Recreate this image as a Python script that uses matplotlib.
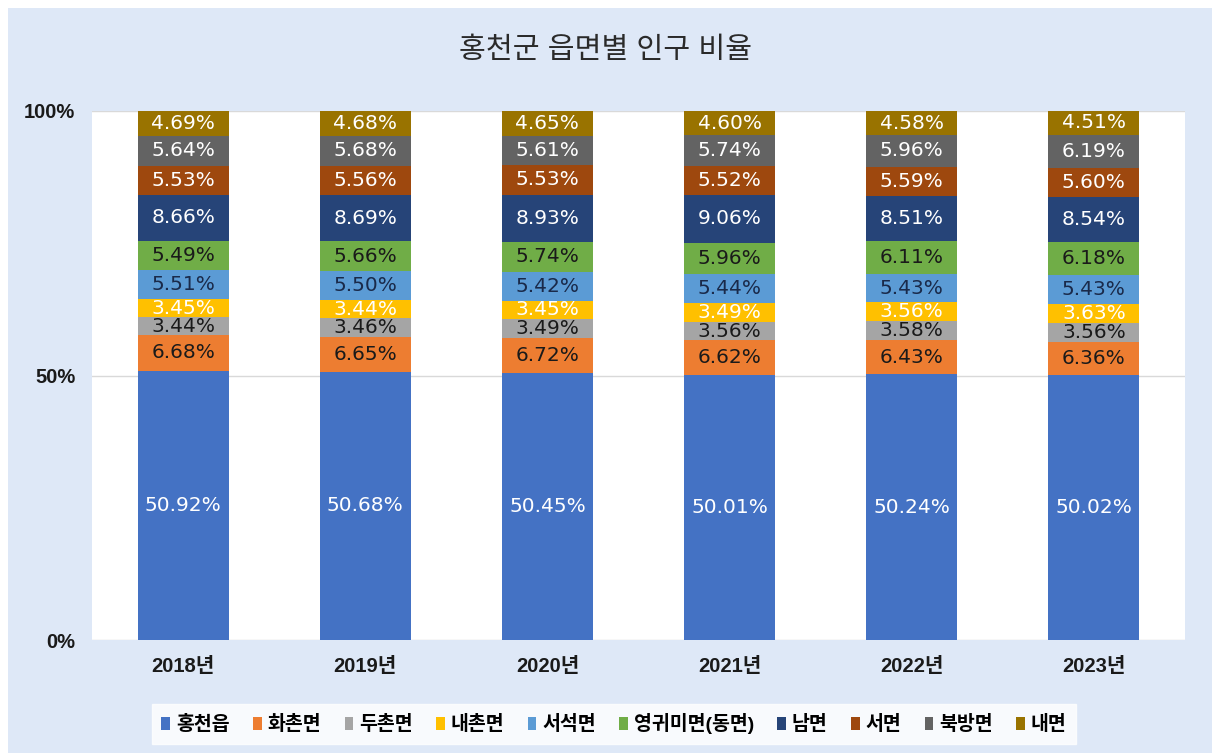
import matplotlib.pyplot as plt
import matplotlib.patches as patches
import numpy as np

plt.rcParams['font.family'] = ['Liberation Sans', 'Noto Sans CJK KR', 'DejaVu Sans']

years = ["2018년", "2019년", "2020년", "2021년", "2022년", "2023년"]
regions = ["홍천읍", "화촌면", "두촌면", "내촌면", "서석면",
           "영귀미면(동면)", "남면", "서면", "북방면", "내면"]

# percentages per region, one entry per year
hongcheon = [50.92, 50.68, 50.45, 50.01, 50.24, 50.02]
hwachon = [6.68, 6.65, 6.72, 6.62, 6.43, 6.36]
duchon = [3.44, 3.46, 3.49, 3.56, 3.58, 3.56]
naechon = [3.45, 3.44, 3.45, 3.49, 3.56, 3.63]
seoseok = [5.51, 5.50, 5.42, 5.44, 5.43, 5.43]
yeonggwi = [5.49, 5.66, 5.74, 5.96, 6.11, 6.18]
nam = [8.66, 8.69, 8.93, 9.06, 8.51, 8.54]
seo = [5.53, 5.56, 5.53, 5.52, 5.59, 5.60]
bukbang = [5.64, 5.68, 5.61, 5.74, 5.96, 6.19]
nae = [4.69, 4.68, 4.65, 4.60, 4.58, 4.51]

series = [hongcheon, hwachon, duchon, naechon, seoseok,
          yeonggwi, nam, seo, bukbang, nae]
colors = ["#4472C4", "#ED7D31", "#A5A5A5", "#FFC000", "#5B9BD5",
          "#70AD47", "#264478", "#9E480E", "#636363", "#997300"]
label_colors = ["white", "#1a1a1a", "#1a1a1a", "white", "#1a2a4a",
                "#1a1a1a", "white", "white", "white", "white"]


def main():
  fig = plt.figure(figsize=(12.12, 7.53), dpi=100, facecolor="white")
  # light blue chart area, with a thin white edge on top/left
  fig.patches.append(patches.Rectangle((8 / 1212, 0), 1, 1 - 8 / 753,
                                       transform=fig.transFigure,
                                       facecolor="#DEE8F7", edgecolor="none", zorder=-10))

  ax = fig.add_axes([92 / 1212, 1 - 640 / 753, (1185 - 92) / 1212, (640 - 111) / 753])
  ax.set_facecolor("white")

  data = np.array(series, dtype=float)
  totals = data.sum(axis=0)
  shares = data / totals * 100
  x = np.arange(len(years))
  bottom = np.zeros(len(years))

  for i, region in enumerate(regions):
    ax.bar(x, shares[i], 0.5, bottom=bottom, color=colors[i], label=region, zorder=3)
    for j in range(len(years)):
      ax.text(x[j], bottom[j] + shares[i][j] / 2, f"{data[i][j]:.2f}%",
              ha="center", va="center", color=label_colors[i], fontsize=14.5,
              family="DejaVu Sans", zorder=4)
    bottom += shares[i]

  ax.set_xlim(-0.5, len(years) - 0.5)
  ax.set_ylim(0, 100)
  ax.set_yticks([0, 50, 100])
  ax.set_yticklabels(["0%", "50%", "100%"])
  ax.set_xticks(x)
  ax.set_xticklabels(years)
  ax.tick_params(axis="both", length=0, labelsize=14.5, colors="#1a1a1a")
  ax.tick_params(axis="y", pad=12)
  ax.tick_params(axis="x", pad=12)
  for lbl in ax.get_xticklabels() + ax.get_yticklabels():
    lbl.set_fontweight("bold")
  ax.grid(axis="y", color="#D9D9D9", linewidth=1, zorder=0)
  for s in ax.spines.values():
    s.set_visible(False)

  fig.text(0.5, 1 - 50 / 753, "홍천군 읍면별 인구 비율", ha="center", va="center",
           fontsize=21, color="#2a2a2a")

  leg = fig.legend(loc="center", bbox_to_anchor=(614 / 1212, 1 - 724 / 753), ncol=10,
                   frameon=True, fancybox=False,
                   prop={"size": 14, "weight": "bold"}, handlelength=0.45,
                   handleheight=0.6, handletextpad=0.3, columnspacing=1.2,
                   borderpad=0.5)
  leg.get_frame().set_facecolor("white")
  leg.get_frame().set_edgecolor("white")

  plt.savefig("out.png", dpi=100)


if __name__ == "__main__":
  main()
